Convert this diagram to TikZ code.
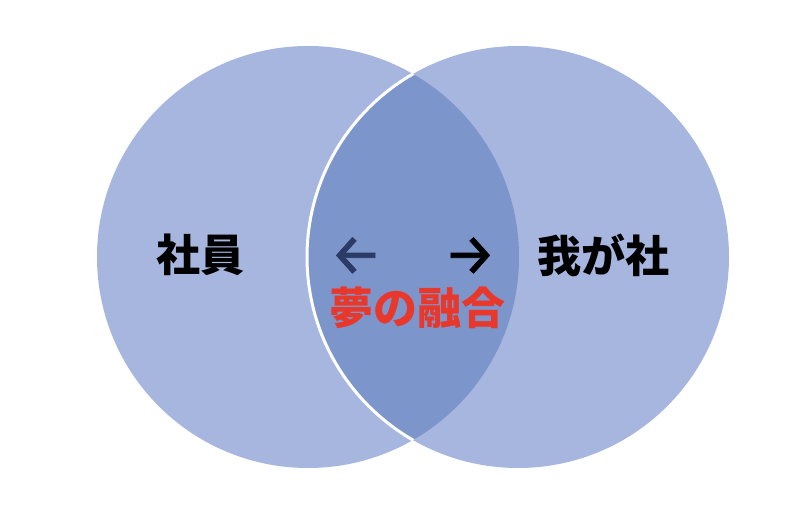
\documentclass[tikz,border=0pt]{standalone}
\usepackage{fontspec}
\newfontfamily\jpfont{Noto Sans CJK JP}
\newfontfamily\arrowfont{Fira Sans}[FakeBold=1.2]
\usetikzlibrary{positioning}
\definecolor{ringblue}{RGB}{166,182,222}
\definecolor{lensblue}{RGB}{124,150,204}
\definecolor{dreamred}{RGB}{232,56,44}
\definecolor{arrownavy}{RGB}{44,58,102}
\tikzset{
  ring/.style={fill=ringblue},
  label jp/.style={font=\jpfont\bfseries\fontsize{44}{48}\selectfont, inner sep=0pt},
  arrow sign/.style={font=\arrowfont\fontsize{58}{60}\selectfont, inner sep=0pt}
}

\begin{document}
\begin{tikzpicture}[x=1pt,y=-1pt]
\useasboundingbox (0,0) rectangle (806,510);
\coordinate (lc) at (308,257);
\coordinate (rc) at (518,257);
\fill[ring] (lc) circle[radius=211];
\fill[ring] (rc) circle[radius=211];
\begin{scope}
\clip (lc) circle[radius=211];
\fill[lensblue] (rc) circle[radius=211];
\draw[white,line width=3pt] (rc) circle[radius=211];
\end{scope}
\node[label jp] (staff) at (200,255) {社員};
\node[label jp] (company) at (603,255) {我が社};
\node[arrow sign,text=arrownavy] (larrow) at (356,256) {←};
\node[arrow sign] (rarrow) at (470,256) {→};
\node[label jp,text=dreamred] (dream) at (417,308) {夢の融合};
\end{tikzpicture}
\end{document}
